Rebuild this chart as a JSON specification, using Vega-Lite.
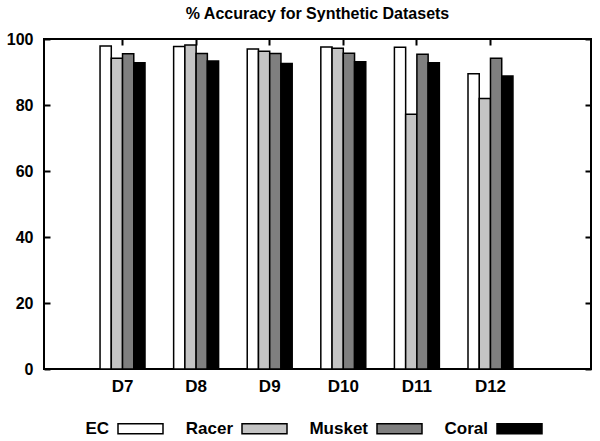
{
  "$schema": "https://vega.github.io/schema/vega-lite/v6.json",
  "width": 547,
  "height": 330,
  "autosize": "none",
  "padding": {"left": 44, "top": 39, "right": 9, "bottom": 72},
  "background": "white",
  "title": {"text": "% Accuracy for Synthetic Datasets", "font": "Liberation Sans", "fontSize": 16, "fontWeight": "bold", "color": "black", "offset": 9},
  "config": {
    "view": {"stroke": "black", "strokeWidth": 2},
    "axis": {"labelFont": "Liberation Sans", "labelFontWeight": "bold", "labelColor": "black", "domain": false, "grid": false, "ticks": true, "tickColor": "black", "tickWidth": 2, "tickOpacity": 1, "title": null}
  },
  "data": {"values": [
    {"dataset": "D7", "method": "EC", "acc": 97.9},
    {"dataset": "D7", "method": "Racer", "acc": 94.2},
    {"dataset": "D7", "method": "Musket", "acc": 95.5},
    {"dataset": "D7", "method": "Coral", "acc": 92.8},
    {"dataset": "D8", "method": "EC", "acc": 97.7},
    {"dataset": "D8", "method": "Racer", "acc": 98.2},
    {"dataset": "D8", "method": "Musket", "acc": 95.6},
    {"dataset": "D8", "method": "Coral", "acc": 93.3},
    {"dataset": "D9", "method": "EC", "acc": 97.0},
    {"dataset": "D9", "method": "Racer", "acc": 96.3},
    {"dataset": "D9", "method": "Musket", "acc": 95.6},
    {"dataset": "D9", "method": "Coral", "acc": 92.6},
    {"dataset": "D10", "method": "EC", "acc": 97.6},
    {"dataset": "D10", "method": "Racer", "acc": 97.2},
    {"dataset": "D10", "method": "Musket", "acc": 95.7},
    {"dataset": "D10", "method": "Coral", "acc": 93.1},
    {"dataset": "D11", "method": "EC", "acc": 97.5},
    {"dataset": "D11", "method": "Racer", "acc": 77.2},
    {"dataset": "D11", "method": "Musket", "acc": 95.4},
    {"dataset": "D11", "method": "Coral", "acc": 92.8},
    {"dataset": "D12", "method": "EC", "acc": 89.5},
    {"dataset": "D12", "method": "Racer", "acc": 82.0},
    {"dataset": "D12", "method": "Musket", "acc": 94.2},
    {"dataset": "D12", "method": "Coral", "acc": 88.8}
  ]},
  "encoding": {
    "x": {
      "field": "dataset", "type": "nominal", "sort": ["D7", "D8", "D9", "D10", "D11", "D12"],
      "scale": {"paddingInner": 0.389, "paddingOuter": 0.911, "align": 0.418}
    },
    "xOffset": {"field": "method", "type": "nominal", "sort": ["EC", "Racer", "Musket", "Coral"], "scale": {"paddingInner": 0, "paddingOuter": 0}},
    "y": {
      "field": "acc", "type": "quantitative",
      "scale": {"domain": [0, 100], "nice": false}
    }
  },
  "layer": [
    {
      "mark": {"type": "bar", "stroke": "black", "strokeWidth": 1.5},
      "encoding": {
        "x": {"field": "dataset", "type": "nominal", "sort": ["D7", "D8", "D9", "D10", "D11", "D12"],
          "axis": {"orient": "bottom", "labelAngle": 0, "ticks": false, "labelPadding": 9, "labelFontSize": 17}},
        "y": {"field": "acc", "type": "quantitative",
          "axis": {"orient": "left", "values": [0, 20, 40, 60, 80, 100], "offset": -6, "tickSize": 6, "labelPadding": 11, "labelFontSize": 16}},
        "fill": {
          "field": "method", "type": "nominal", "sort": ["EC", "Racer", "Musket", "Coral"],
          "scale": {"domain": ["EC", "Racer", "Musket", "Coral"], "range": ["white", "#c4c4c4", "#7f7f7f", "black"]},
          "legend": {
            "title": null, "orient": "none", "legendX": 73, "legendY": 366, "direction": "horizontal",
            "symbolType": "M-1,-0.22L1,-0.22L1,0.22L-1,0.22Z", "symbolSize": 2025, "symbolStrokeColor": "black", "symbolStrokeWidth": 1.5,
            "labelFont": "Liberation Sans", "labelFontSize": 17, "labelFontWeight": "bold", "labelColor": "black",
            "labelAlign": "right", "labelOffset": -55, "columnPadding": 19
          }
        }
      }
    },
    {
      "mark": {"type": "bar", "opacity": 0},
      "encoding": {
        "x": {"field": "dataset", "type": "nominal", "sort": ["D7", "D8", "D9", "D10", "D11", "D12"],
          "axis": {"orient": "top", "labels": false, "offset": -6, "tickSize": 6}},
        "y": {"field": "acc", "type": "quantitative",
          "axis": {"orient": "right", "values": [0, 20, 40, 60, 80, 100], "labels": false, "offset": -6, "tickSize": 6}}
      }
    }
  ],
  "resolve": {"axis": {"x": "independent", "y": "independent"}}
}
